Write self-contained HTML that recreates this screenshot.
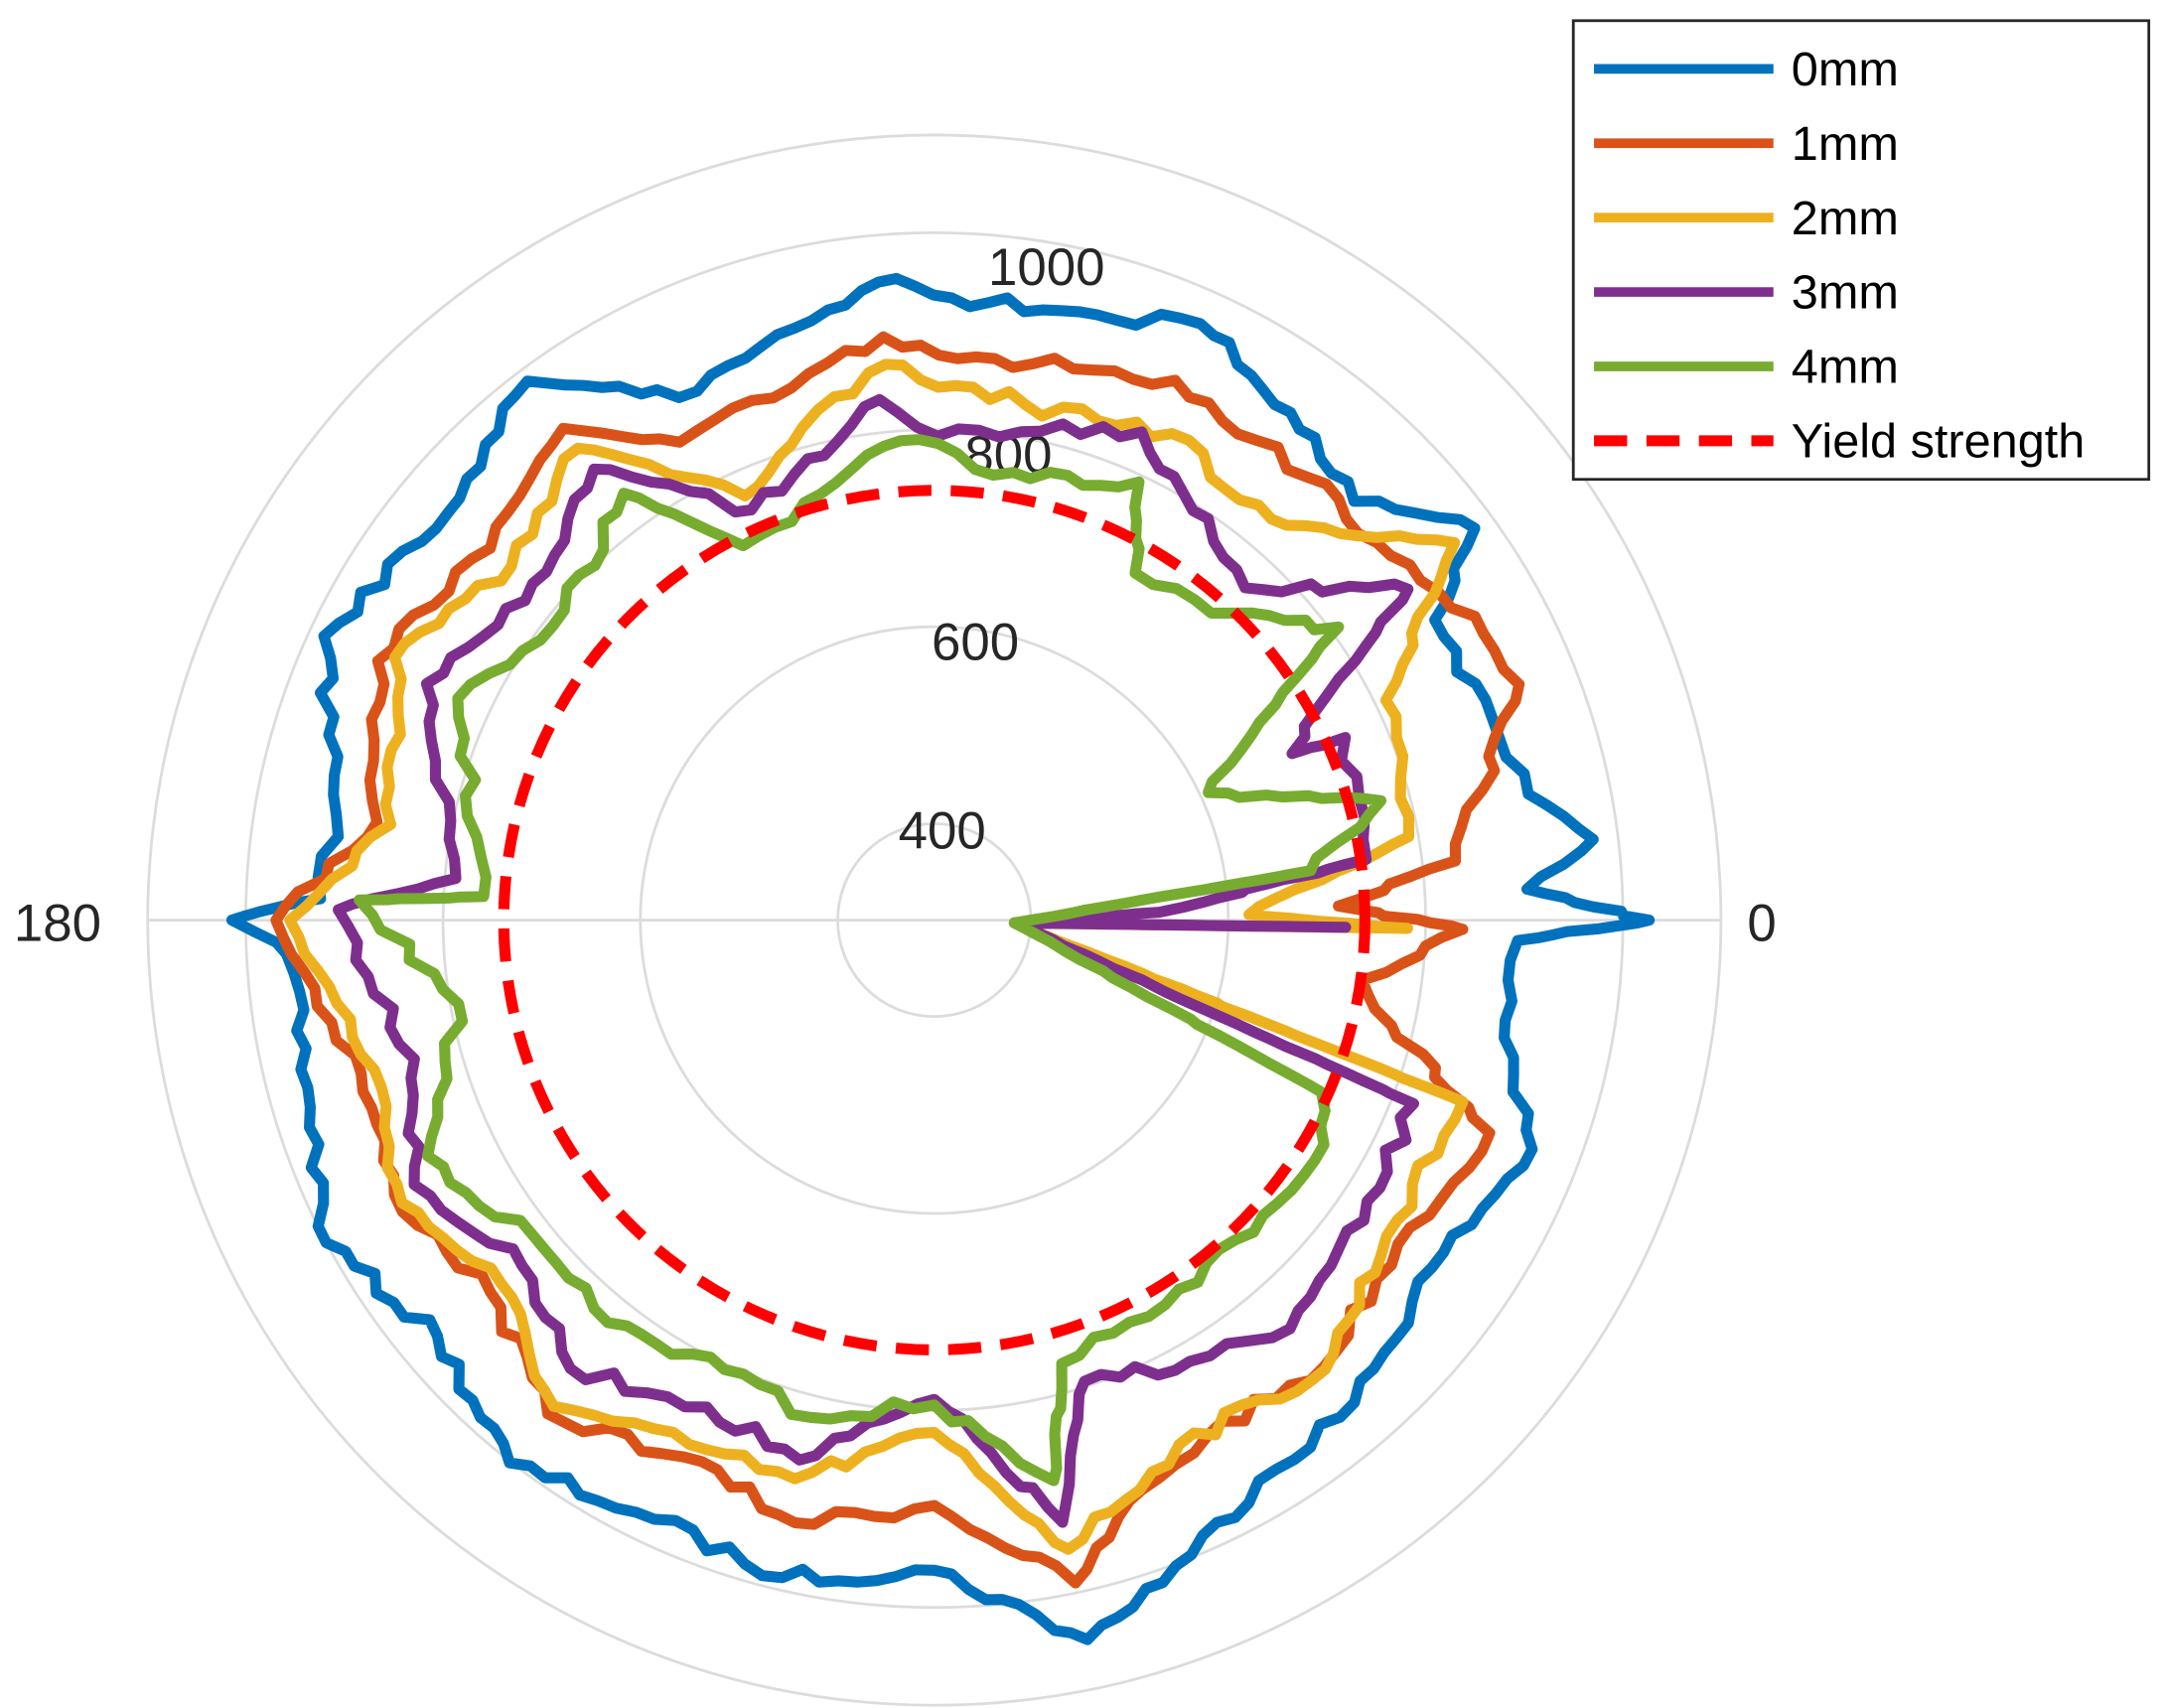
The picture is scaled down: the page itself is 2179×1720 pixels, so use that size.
<!DOCTYPE html>
<html><head><meta charset="utf-8">
<style>html,body{margin:0;padding:0;background:#fff}svg{display:block}</style>
</head><body>
<svg id="s" width="2179" height="1720" viewBox="0 0 1568 1240" preserveAspectRatio="none" xmlns="http://www.w3.org/2000/svg" font-family="Liberation Sans, Arial, sans-serif">
<rect width="1568" height="1240" fill="#fff"/>
<g fill="none" stroke="#dcdcdc" stroke-width="2">
<circle cx="677" cy="668" r="70"/>
<circle cx="677" cy="668" r="213"/>
<circle cx="677" cy="668" r="356"/>
<circle cx="677" cy="668" r="499"/>
<circle cx="677" cy="668" r="570"/>
<line x1="107" y1="668" x2="1247" y2="668"/>
</g>
<g fill="#262626" font-size="38">
<text x="651" y="616">400</text>
<text x="675" y="479">600</text>
<text x="699" y="343">800</text>
<text x="716" y="207">1000</text>
<text x="1266" y="683">0</text>
<text x="10" y="683">180</text>
</g>
<g id="curves" fill="none" stroke-width="8" stroke-linejoin="round" stroke-linecap="round"></g>
<circle cx="677" cy="668" r="312" fill="none" stroke="#ff0000" stroke-width="8" stroke-dasharray="24 14"/>
<rect x="1140" y="15" width="417" height="333" fill="#fff" stroke="#262626" stroke-width="2"/>
<g stroke-width="7">
<line x1="1155" y1="50" x2="1285" y2="50" stroke="#0072BD"/>
<line x1="1155" y1="104" x2="1285" y2="104" stroke="#D95319"/>
<line x1="1155" y1="158" x2="1285" y2="158" stroke="#EDB120"/>
<line x1="1155" y1="212" x2="1285" y2="212" stroke="#7E2F8E"/>
<line x1="1155" y1="266" x2="1285" y2="266" stroke="#77AC30"/>
<line x1="1155" y1="320" x2="1285" y2="320" stroke="#ff0000" stroke-width="8" stroke-dasharray="24 14"/>
</g>
<g fill="#000" font-size="35">
<text x="1298" y="62">0mm</text>
<text x="1298" y="116">1mm</text>
<text x="1298" y="170">2mm</text>
<text x="1298" y="224">3mm</text>
<text x="1298" y="278">4mm</text>
<text x="1298" y="332">Yield strength</text>
</g>
</svg>
<script>
var C=[677,668];
var data=[
["#0072BD",[[0,518],[3,430],[7,481],[12,440],[20,430],[31,423],[36,484],[45,430],[55,450],[66,474],[75,455],[85,450],[95,465],[105,440],[116,422],[127,490],[140,460],[155,488],[170,440],[178,445],[180,509],[183,470],[195,470],[208,499],[220,470],[232,500],[245,480],[257,490],[270,472],[282,534],[292,497],[300,470],[311,464],[325,440],[339,464],[350,420],[358,423],[360,518]]],
["#D95319",[[359,383],[2,293],[6.5,380],[22,457],[27.6,449],[35,430],[50,420],[66,429],[80,410],[95,425],[105,400],[118,393],[127,447],[140,420],[155,445],[170,410],[180,477],[195,430],[207,439],[220,420],[232,455],[245,430],[257,449],[270,425],[282,492],[290,440],[298,423],[311,430],[325,410],[339,431],[347,340],[352,313],[359,383]]],
["#EDB120",[[359,343],[1,228],[10,349],[26,364],[36,466],[50,380],[64,393],[80,380],[95,405],[105,370],[114,337],[127,429],[140,400],[154,435],[170,400],[180,467],[195,420],[208,437],[220,410],[232,448],[245,420],[256,418],[270,372],[282,467],[295,420],[311,432],[325,400],[341,405],[358,58],[359,343]]],
["#7E2F8E",[[359,298],[358,58],[2,163],[8,316],[24,326],[25,286],[30,330],[35,419],[47,330],[67,385],[80,360],[92,358],[96,380],[114,326],[127,410],[140,380],[155,406],[175,348],[179,432],[195,390],[207,423],[220,390],[231,419],[245,390],[256,404],[270,348],[282,447],[288,352],[300,370],[311,393],[325,380],[339,372],[358,58]]],
["#77AC30",[[358,58],[7.5,275],[15,335],[25,219],[34,318],[36,362],[48,300],[60,291],[65,351],[80,330],[94,349],[105,320],[117,305],[126,383],[140,350],[155,381],[177,327],[178,417],[190,350],[205,405],[220,370],[231,376],[245,360],[256,372],[270,352],[282,416],[286,335],[306,325],[330,326],[336,307],[358,58]]]
];
function xy(a,r){a=a*Math.PI/180;return [C[0]+r*Math.cos(a),C[1]-r*Math.sin(a)];}
var seed=7;function rnd(){seed=(seed*16807)%2147483647;return seed/2147483647-0.5;}
var g=document.getElementById('curves');
data.forEach(function(d){
 var pts=d[1].map(function(p){return xy(p[0],p[1]);});
 var out=[];
 for(var i=0;i<pts.length-1;i++){
  var a=pts[i],b=pts[i+1];var L=Math.hypot(b[0]-a[0],b[1]-a[1]);var n=Math.max(1,Math.round(L/14));
  for(var k=0;k<n;k++){var t=k/n;var x=a[0]+(b[0]-a[0])*t,y=a[1]+(b[1]-a[1])*t;
   if(k>0){var dx=x-C[0],dy=y-C[1],rr=Math.hypot(dx,dy)||1;var j=rnd()*12*Math.min(1,rr/200);x+=dx/rr*j;y+=dy/rr*j;}
   out.push(x.toFixed(1)+','+y.toFixed(1));}
 }
 var l=pts[pts.length-1];out.push(l[0].toFixed(1)+','+l[1].toFixed(1));
 var p=document.createElementNS('http://www.w3.org/2000/svg','polyline');
 p.setAttribute('points',out.join(' '));p.setAttribute('stroke',d[0]);g.appendChild(p);
});
</script>
</body></html>
